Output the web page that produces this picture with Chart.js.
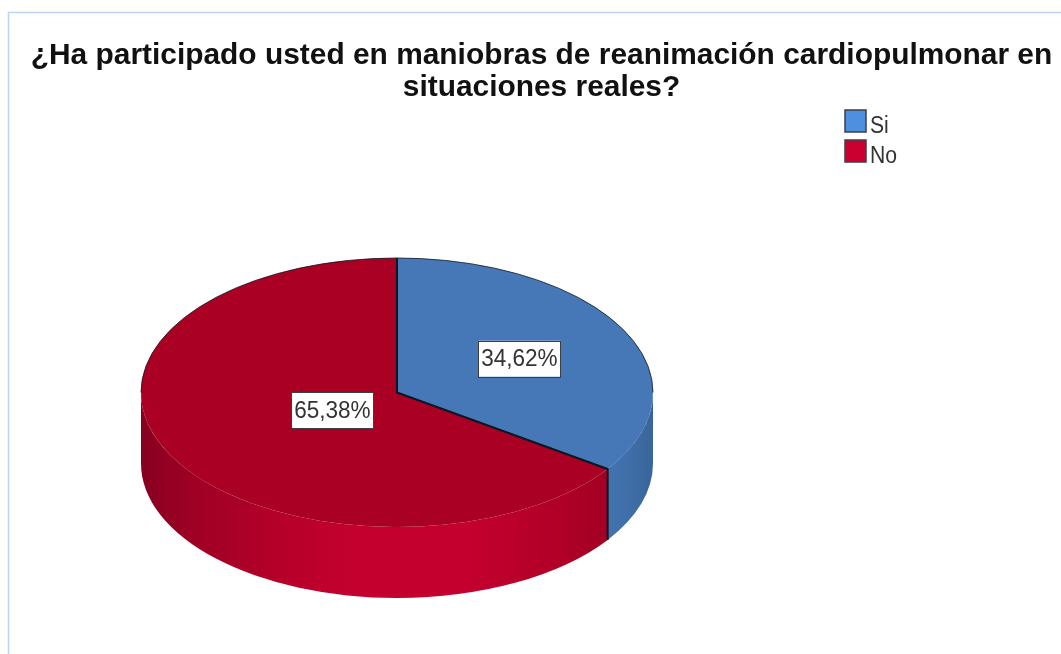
<!DOCTYPE html>
<html>
<head>
<meta charset="utf-8">
<style>html,body{margin:0;padding:0;background:#fff;overflow:hidden}canvas{display:block}</style>
<script src="https://cdn.jsdelivr.net/npm/chart.js@4"></script>
</head>
<body>
<canvas id="c" width="1061" height="654"></canvas>
<script>
const titleLines = ["¿Ha participado usted en maniobras de reanimación cardiopulmonar en", "situaciones reales?"];
const categories = ["Si", "No"];
const percentages = [34.62, 65.38];
const topColors = ["#4678b8", "#a90024"];
const legendColors = ["#4f8fdf", "#cc0030"];
const labelReach = [0.54, 0.285];
const sideStops = [
  [[0, "#4373af"], [0.5, "#3f6ea8"], [1, "#38659a"]],
  [[0, "#880021"], [0.12, "#a00024"], [0.3, "#b5002a"], [0.45, "#c4002e"], [0.7, "#c4002e"], [0.9, "#b00027"], [1, "#a30024"]]
];
const FONT = '"Liberation Sans", Arial, sans-serif';
const cx = 397, cy = 392.5, rx = 256, ry = 134.5, depth = 71;

const pie3d = {
  id: "pie3d",
  beforeDraw(chart) {
    const c = chart.ctx;
    c.save();
    c.strokeStyle = "#b9d5f2";
    c.lineWidth = 1.5;
    c.beginPath();
    c.moveTo(8.5, 654); c.lineTo(8.5, 12.5); c.lineTo(1061, 12.5);
    c.stroke();
    c.restore();
  },
  beforeDatasetsDraw(chart) {
    const c = chart.ctx;
    const arcs = chart.getDatasetMeta(0).data;
    arcs.forEach((el, i) => {
      const a = Math.max(el.startAngle, 0), b = Math.min(el.endAngle, Math.PI);
      if (b <= a) return;
      const x0 = cx + rx * Math.cos(b), x1 = cx + rx * Math.cos(a);
      const g = c.createLinearGradient(x0, 0, x1, 0);
      sideStops[i].forEach(s => g.addColorStop(s[0], s[1]));
      c.beginPath();
      c.ellipse(cx, cy, rx, ry, 0, a, b);
      c.ellipse(cx, cy + depth, rx, ry, 0, b, a, true);
      c.closePath();
      c.fillStyle = g;
      c.fill();
    });
    c.save();
    const el0 = arcs[0];
    c.translate(cx, cy);
    c.scale(1, ry / rx);
    c.translate(-el0.x, -el0.y);
  },
  afterDatasetsDraw(chart) {
    const c = chart.ctx;
    c.restore();
    const arcs = chart.getDatasetMeta(0).data;
    // outlines
    c.save();
    c.strokeStyle = "#0d1720";
    c.lineWidth = 0.8;
    c.beginPath();
    c.ellipse(cx, cy, rx, ry, 0, Math.PI, 2 * Math.PI);
    c.stroke();
    c.lineWidth = 2;
    c.beginPath();
    const seam = arcs[0].endAngle;
    const sx = cx + rx * Math.cos(seam), sy = cy + ry * Math.sin(seam);
    c.moveTo(cx, cy - ry); c.lineTo(cx, cy); c.lineTo(sx, sy); c.lineTo(sx, sy + depth);
    c.stroke();
    c.restore();
    // value labels
    c.save();
    c.textAlign = "center";
    c.textBaseline = "middle";
    arcs.forEach((el, i) => {
      const mid = (el.startAngle + el.endAngle) / 2;
      const x = cx + labelReach[i] * rx * Math.cos(mid);
      const y = cy + labelReach[i] * ry * Math.sin(mid);
      const w = 82, h = 36;
      c.fillStyle = "#fff";
      c.strokeStyle = "#3a3f45";
      c.lineWidth = 1;
      c.fillRect(x - w / 2, y - h / 2, w, h);
      c.strokeRect(Math.round(x - w / 2) + .5, Math.round(y - h / 2) + .5, w, h);
      c.fillStyle = "#333";
      c.save();
      c.translate(x, y + 1);
      c.scale(0.96, 1);
      c.font = "23.5px " + FONT;
      c.fillText(percentages[i].toFixed(2).replace(".", ",") + "%", 0, 0);
      c.restore();
    });
    c.restore();
    // legend
    c.save();
    c.textBaseline = "alphabetic";
    c.textAlign = "left";
    categories.forEach((name, i) => {
      const y = 110 + i * 30;
      c.fillStyle = legendColors[i];
      c.fillRect(845, y, 21, 22);
      c.strokeStyle = "#3a4048";
      c.lineWidth = 1.5;
      c.strokeRect(845, y, 21, 22);
      c.fillStyle = "#333";
      c.save();
      c.translate(870, y + 23);
      c.scale(0.92, 1);
      c.font = "23px " + FONT;
      c.fillText(name, 0, 0);
      c.restore();
    });
    c.restore();
  }
};

new Chart(document.getElementById("c"), {
  type: "pie",
  data: {
    labels: categories,
    datasets: [{
      data: percentages,
      backgroundColor: topColors,
      borderWidth: 0,
      radius: rx,
      clip: false
    }]
  },
  options: {
    responsive: false,
    animation: false,
    layout: { padding: { left: 22 } },
    events: [],
    plugins: {
      legend: { display: false },
      tooltip: { enabled: false },
      title: {
        display: true,
        text: titleLines,
        color: "#111",
        font: { family: FONT, size: 29.9, weight: "bold", lineHeight: 1.05 },
        padding: { top: 40.5, bottom: 0 }
      }
    }
  },
  plugins: [pie3d]
});
</script>
</body>
</html>
